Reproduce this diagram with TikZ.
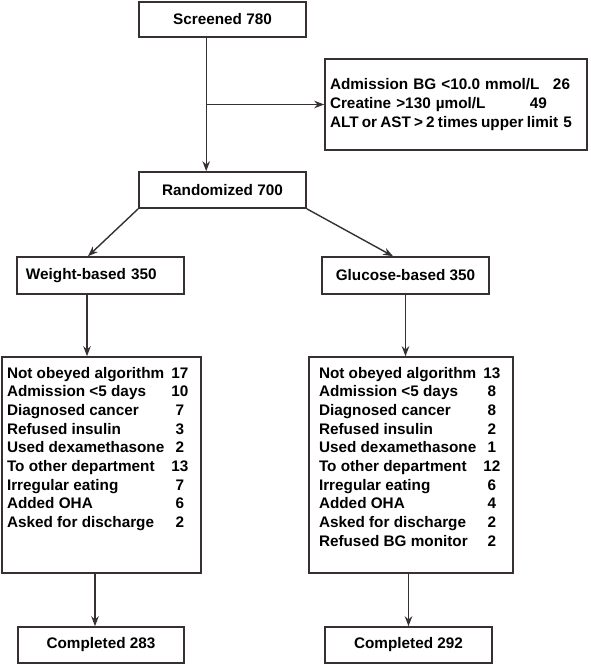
\documentclass[tikz,border=0pt]{standalone}
\usepackage{fontspec}
\setmainfont{Liberation Sans}
\usetikzlibrary{arrows.meta}
\definecolor{ink}{RGB}{55,48,48}
\tikzset {>={Stealth[length=10pt,width=7.5pt]}}
\tikzset{
  box/.style={draw=ink,line width=1.6pt,inner sep=0pt,minimum width=167pt,minimum height=36pt,
    font=\bfseries\fontsize{15.3}{18.7}\selectfont},
  link/.style={draw=ink,line width=1.4pt,->}
}
\newcommand{\rowitem}[2]{\makebox[165pt][l]{#1}\makebox[16pt]{#2}\par}

\begin{document}
\begin{tikzpicture}[x=1pt,y=-1pt]
\useasboundingbox (0,0) rectangle (590,665);
\node[box,minimum height=35pt] (screened) at (222.5,19.5) {Screened 780};
\node[box,minimum width=262pt,minimum height=91pt,text width=252pt,align=left] (excl) at (456,104.5)
  {\makebox[223pt][l]{Admission BG <10.0 mmol/L}26\\
   \makebox[200pt][l]{Creatine >130 µmol/L}49\\
   \mbox{\spaceskip=3.2pt ALT or AST > 2 times upper limit\hspace{5pt}5}};
\node[box] (random) at (222.5,190) {Randomized 700};
\node[box,minimum height=37pt,text width=149pt,align=left] (weight) at (100.5,275.5) {Weight-based 350};
\node[box,minimum height=37pt] (glucose) at (405.5,275.5) {Glucose-based 350};
\node[box,inner xsep=5pt,inner ysep=10pt] (wlist) at (101.5,465)
  {\parbox[c][196pt][t]{189pt}{%
    \rowitem{Not obeyed algorithm}{17}
    \rowitem{Admission <5 days}{10}
    \rowitem{Diagnosed cancer}{7}
    \rowitem{Refused insulin}{3}
    \rowitem{Used dexamethasone}{2}
    \rowitem{To other department}{13}
    \rowitem{Irregular eating}{7}
    \rowitem{Added OHA}{6}
    \rowitem{Asked for discharge}{2}}};
\node[box,inner xsep=10pt,inner ysep=10pt] (glist) at (411,465)
  {\parbox[c][196pt][t]{184pt}{%
    \rowitem{Not obeyed algorithm}{13}
    \rowitem{Admission <5 days}{8}
    \rowitem{Diagnosed cancer}{8}
    \rowitem{Refused insulin}{2}
    \rowitem{Used dexamethasone}{1}
    \rowitem{To other department}{12}
    \rowitem{Irregular eating}{6}
    \rowitem{Added OHA}{4}
    \rowitem{Asked for discharge}{2}
    \rowitem{Refused BG monitor}{2}}};
\node[box,minimum width=166pt] (wdone) at (101,645) {Completed 283};
\node[box] (gdone) at (408.5,645) {Completed 292};

\coordinate (trunk) at ([xshift=68pt]screened.south west);
\coordinate (w1) at ([xshift=-13.5pt]weight.south);
\coordinate (w2) at ([xshift=-6pt]wdone.north);
\draw[link] (trunk) -- (trunk |- random.north);
\draw[link] (trunk |- excl.west) -- (excl.west);
\draw[link] (random.south west) -- ([xshift=-12.5pt]weight.north);
\draw[link] (random.south east) -- ([xshift=-12.5pt]glucose.north);
\draw[link] (w1) -- (w1 |- wlist.north);
\draw[link] (glucose.south) -- (glucose.south |- glist.north);
\draw[link] (w2 |- wlist.south) -- (w2);
\draw[link] (gdone.north |- glist.south) -- (gdone.north);
\end{tikzpicture}
\end{document}
